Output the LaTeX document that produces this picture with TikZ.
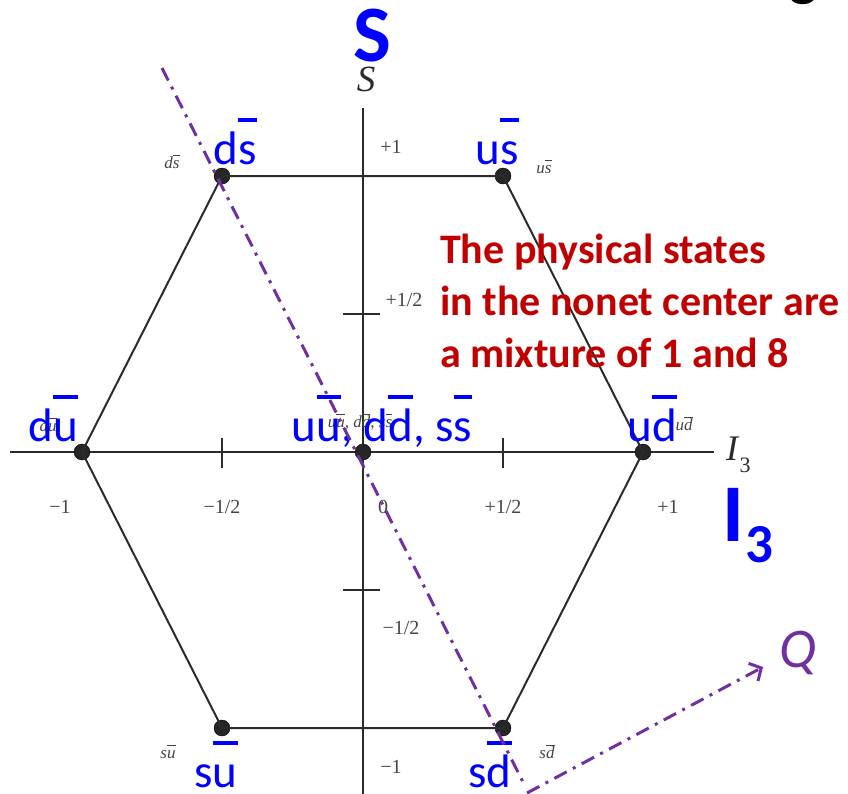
\documentclass[tikz,border=0pt]{standalone}
\usepackage{fontspec}
\setmainfont{Liberation Serif}
\newfontfamily\cbr{Carlito}
\usetikzlibrary{arrows.meta}
\definecolor{axisgray}{HTML}{2B2B2B}
\definecolor{lblgray}{HTML}{444444}
\definecolor{qpurple}{HTML}{7030A0}
\definecolor{nred}{HTML}{C00000}
\definecolor{qblue}{HTML}{0000FF}
\newcommand\ob[1]{\sbox0{#1}\rlap{\raisebox{0.9em}{\rule{\wd0}{0.085em}}}\usebox0}
\newcommand\sob[1]{\sbox0{#1}\rlap{\raisebox{0.72em}{\rule{\wd0}{0.05em}}}\usebox0}
\begin{document}
\begin{tikzpicture}[x=1pt,y=-1pt,
  dot/.style={circle,fill=black!85,draw=black,inner sep=0pt,minimum size=16pt},
  edge/.style={draw=axisgray,line width=2pt},
  num/.style={text=lblgray,font=\fontsize{20}{20}\selectfont,inner sep=0pt},
  small/.style={text=lblgray,font=\fontsize{17}{17}\selectfont\itshape,inner sep=0pt},
  blue/.style={text=qblue,font=\fontsize{47}{47}\selectfont\cbr,inner sep=0pt,anchor=base},
  redtxt/.style={text=nred,font=\fontsize{42}{42}\selectfont\cbr\bfseries,inner sep=0pt,anchor=base west},
  qline/.style={draw=qpurple,line width=3pt,dash pattern=on 14pt off 7pt on 3pt off 7pt}]
\useasboundingbox (0,0) rectangle (848,793);
% top-right fragment
\node[inner sep=0pt,anchor=base,font=\fontsize{60}{60}\selectfont\cbr\bfseries] (frag) at (804,-6) {g};
% axes
\coordinate (xl) at (10,452);
\coordinate (xr) at (714,452);
\coordinate (yt) at (363,108);
\coordinate (yb) at (363,800);
\draw[edge] (xl) -- (xr);
\draw[edge] (yt) -- (yb);
% ticks
\coordinate (tx1a) at (222,438); \coordinate (tx1b) at (222,468);
\coordinate (tx2a) at (503,438); \coordinate (tx2b) at (503,468);
\coordinate (ty1a) at (343,314); \coordinate (ty1b) at (380,314);
\coordinate (ty2a) at (343,590); \coordinate (ty2b) at (380,590);
\draw[edge] (tx1a) -- (tx1b);
\draw[edge] (tx2a) -- (tx2b);
\draw[edge] (ty1a) -- (ty1b);
\draw[edge] (ty2a) -- (ty2b);
% vertices
\node[dot] (ds) at (222,176) {};
\node[dot] (us) at (503,176) {};
\node[dot] (du) at (82,452) {};
\node[dot] (c) at (363,452) {};
\node[dot] (ud) at (643,452) {};
\node[dot] (su) at (222,728) {};
\node[dot] (sd) at (503,728) {};
\draw[edge] (ds.center) -- (us.center) -- (ud.center) -- (sd.center) -- (su.center) -- (du.center) -- cycle;
% axis labels
\node[text=axisgray,inner sep=0pt,font=\fontsize{37}{37}\selectfont\itshape] (Slab) at (366,79) {S};
\node[text=axisgray,inner sep=0pt,anchor=west,font=\fontsize{36}{36}\selectfont] (Ilab) at (726,455) {\textit{I}\raisebox{-0.35em}{\fontsize{22}{22}\selectfont 3}};
% numbers
\node[num] (n1) at (391,147) {+1};
\node[num] (n2) at (404,300) {+1/2};
\node[num] (n3) at (401,628) {−1/2};
\node[num] (n4) at (391,767) {−1};
\node[num] (m1) at (60,507) {−1};
\node[num] (m2) at (222,507) {−1/2};
\node[num] (m3) at (383,507) {0};
\node[num] (m4) at (503,507) {+1/2};
\node[num] (m5) at (668,507) {+1};
% small italic labels
\node[small] (lds) at (172,162) {d\sob{s}};
\node[small] (lus) at (544,167) {u\sob{s}};
\node[small] (ldu) at (48,425) {d\sob{u}};
\node[small] (lc) at (360,422) {u\sob{u}, d\sob{d}, s\sob{s}};
\node[small] (lud) at (684,424) {u\sob{d}};
\node[small] (lsu) at (168,752) {s\sob{u}};
\node[small] (lsd) at (547,752) {s\sob{d}};
% blue labels
\node[blue] (bds) at (235,164) {d\ob{s}};
\node[blue] (bus) at (497,164) {u\ob{s}};
\node[blue] (bdu) at (53,441) {d\ob{u}};
\node[blue] (bc) at (382,441) {u\ob{u}, d\ob{d}, s\ob{s}};
\node[blue] (bud) at (652,441) {u\ob{d}};
\node[blue] (bsu) at (216,787) {s\ob{u}};
\node[blue] (bsd) at (490,787) {s\ob{d}};
% big labels
\node[text=qblue,inner sep=0pt,font=\fontsize{80}{80}\selectfont\cbr\bfseries] (bigS) at (372,36) {S};
\node[text=qblue,inner sep=0pt,font=\fontsize{82}{82}\selectfont\cbr\bfseries] (bigI) at (733,515) {I};
\node[text=qblue,inner sep=0pt,font=\fontsize{55}{55}\selectfont\cbr\bfseries] (big3) at (759,545) {3};
% red note
\node[redtxt] (r1) at (440,263) {The physical states};
\node[redtxt] (r2) at (440,315) {in the nonet center are};
\node[redtxt] (r3) at (440,367) {a mixture of 1 and 8};
% purple lines
\coordinate (p1) at (162,68);
\coordinate (p2) at (523,782);
\coordinate (q1) at (527,793);
\coordinate (q2) at (763,667);
\draw[qline] (p1) -- (p2);
\draw[qline,-{Straight Barb[length=9pt,width=20pt,line width=3pt]}] (q1) -- (q2);
\node[text=qpurple,inner sep=0pt,font=\fontsize{56}{56}\selectfont\cbr\itshape] (Q) at (798,653) {Q};
\end{tikzpicture}
\end{document}
